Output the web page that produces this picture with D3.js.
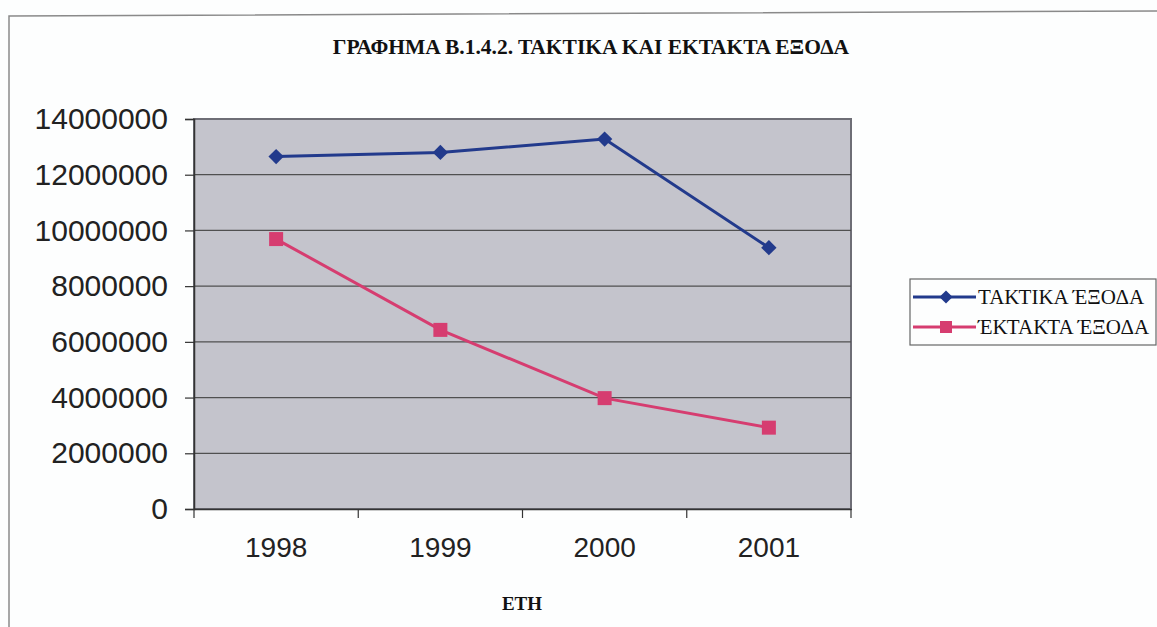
<!DOCTYPE html>
<html>
<head>
<meta charset="utf-8">
<script src="https://cdn.jsdelivr.net/npm/d3@7"></script>
<style>
  body { margin: 0; background: #fdfefe; }
  svg { display: block; }
  .serif { font-family: 'Liberation Serif', 'Times New Roman', 'DejaVu Serif', serif; }
  .sans { font-family: 'Liberation Sans', Arial, sans-serif; }
</style>
</head>
<body>
<svg id="chart" width="1157" height="627"></svg>
<script>
// data
var years = ['1998', '1999', '2000', '2001'];
var regular = [12650000, 12800000, 13280000, 9380000];   // ΤΑΚΤΙΚΑ ΕΞΟΔΑ
var extra = [9690000, 6430000, 3980000, 2920000];        // ΕΚΤΑΚΤΑ ΕΞΟΔΑ
var yTicks = [0, 2000000, 4000000, 6000000, 8000000, 10000000, 12000000, 14000000];
var seriesNames = ['ΤΑΚΤΙΚΑ ΈΞΟΔΑ', 'ΈΚΤΑΚΤΑ ΈΞΟΔΑ'];

var svg = d3.select('#chart');

var margin = {top: 119, left: 194},
    width = 851 - 194,
    height = 509 - 119;

var x = d3.scaleBand().domain(years).range([0, width]);
var y = d3.scaleLinear().domain([0, 14000000]).range([height, 0]);

// outer frame of the chart object (only left and top survived the scan)
svg.append('path')
    .attr('d', 'M9,627 L9,16 L1157,11')
    .style('fill', 'none')
    .style('stroke', '#8a8a8a')
    .style('stroke-width', 1.5);

// title
svg.append('text')
    .attr('class', 'serif')
    .attr('x', 591)
    .attr('y', 54)
    .attr('text-anchor', 'middle')
    .style('font-weight', 'bold')
    .style('font-size', '21.5px')
    .style('fill', '#111')
    .text('ΓΡΑΦΗΜΑ Β.1.4.2. ΤΑΚΤΙΚΑ ΚΑΙ ΕΚΤΑΚΤΑ ΕΞΟΔΑ');

var g = svg.append('g')
    .attr('transform', 'translate(' + margin.left + ',' + margin.top + ')');

// plot background
g.append('rect')
    .attr('width', width)
    .attr('height', height)
    .style('fill', '#c4c4cc')
    .style('stroke', '#6e6e76')
    .style('stroke-width', 2);

// gridlines
g.selectAll('.grid')
    .data(yTicks.slice(1, -1))
    .enter().append('line')
    .attr('class', 'grid')
    .attr('x1', 0)
    .attr('x2', width)
    .attr('y1', function(d) { return y(d); })
    .attr('y2', function(d) { return y(d); })
    .style('stroke', '#505050')
    .style('stroke-width', 1.2);

// y axis
var yAxis = g.append('g')
    .call(d3.axisLeft(y).tickValues(yTicks).tickSize(9).tickPadding(17).tickFormat(d3.format('d')));
yAxis.select('.domain').style('stroke', '#333').style('stroke-width', 1.5);
yAxis.selectAll('.tick line').style('stroke', '#333').style('stroke-width', 1.2);
yAxis.selectAll('.tick text')
    .attr('class', 'sans')
    .style('font-size', '30px')
    .style('fill', '#222');

// x axis, ticks between the categories
var xAxis = g.append('g')
    .attr('transform', 'translate(0,' + height + ')')
    .call(d3.axisBottom(x).tickSize(0).tickPadding(28));
xAxis.select('.domain').style('stroke', '#333').style('stroke-width', 1.5);
xAxis.selectAll('.tick text')
    .attr('class', 'sans')
    .style('font-size', '28px')
    .style('fill', '#222');
xAxis.selectAll('.sep')
    .data(d3.range(years.length + 1))
    .enter().append('line')
    .attr('class', 'sep')
    .attr('x1', function(i) { return i * x.bandwidth(); })
    .attr('x2', function(i) { return i * x.bandwidth(); })
    .attr('y1', 0)
    .attr('y2', 9)
    .style('stroke', '#333')
    .style('stroke-width', 1.2);

// x axis title
svg.append('text')
    .attr('class', 'serif')
    .attr('x', 522)
    .attr('y', 610)
    .attr('text-anchor', 'middle')
    .style('font-weight', 'bold')
    .style('font-size', '19px')
    .style('fill', '#111')
    .text('ΕΤΗ');

var cx = function(d, i) { return x(years[i]) + x.bandwidth() / 2; };
var line = d3.line()
    .x(function(d, i) { return cx(d, i); })
    .y(function(d) { return y(d); });

var blue = '#223a8c', pink = '#d63d70';

g.append('path')
    .attr('d', line(regular))
    .style('fill', 'none')
    .style('stroke', blue)
    .style('stroke-width', 3);

g.append('path')
    .attr('d', line(extra))
    .style('fill', 'none')
    .style('stroke', pink)
    .style('stroke-width', 3);

g.selectAll('.diamond')
    .data(regular)
    .enter().append('path')
    .attr('class', 'diamond')
    .attr('d', d3.symbol().type(d3.symbolDiamond2).size(150))
    .attr('transform', function(d, i) { return 'translate(' + cx(d, i) + ',' + y(d) + ')'; })
    .style('fill', blue);

g.selectAll('.square')
    .data(extra)
    .enter().append('rect')
    .attr('class', 'square')
    .attr('x', function(d, i) { return cx(d, i) - 7; })
    .attr('y', function(d) { return y(d) - 7; })
    .attr('width', 14)
    .attr('height', 14)
    .style('fill', pink);

// legend
var legend = svg.append('g').attr('transform', 'translate(910,279)');
legend.append('rect')
    .attr('width', 246)
    .attr('height', 66)
    .style('fill', '#fdfefe')
    .style('stroke', '#666')
    .style('stroke-width', 1.2);

var colors = [blue, pink];
seriesNames.forEach(function(name, i) {
    var row = legend.append('g').attr('transform', 'translate(0,' + (18 + i * 30) + ')');
    row.append('line')
        .attr('x1', 3).attr('x2', 66)
        .style('stroke', colors[i])
        .style('stroke-width', 3);
    if (i === 0) {
        row.append('path')
            .attr('d', d3.symbol().type(d3.symbolDiamond2).size(110))
            .attr('transform', 'translate(36,0)')
            .style('fill', blue);
    } else {
        row.append('rect')
            .attr('x', 30).attr('y', -6)
            .attr('width', 12).attr('height', 12)
            .style('fill', pink);
    }
    row.append('text')
        .attr('class', 'serif')
        .attr('x', 68)
        .attr('y', 7)
        .style('font-size', '21px')
        .style('fill', '#111')
        .text(name);
});
</script>
</body>
</html>
